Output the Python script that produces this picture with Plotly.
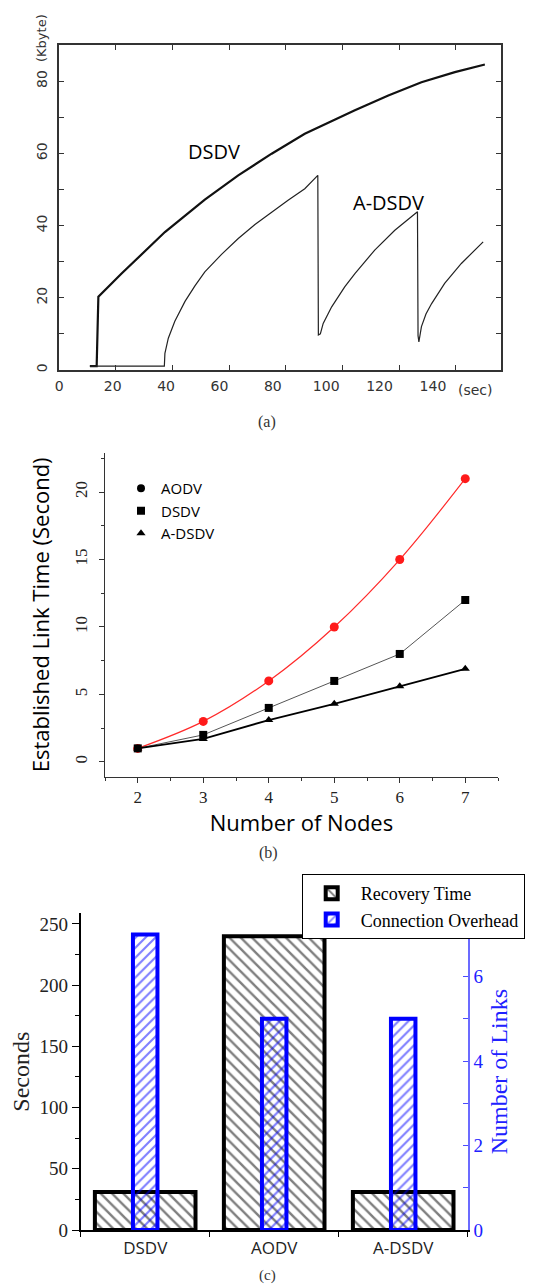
import plotly.graph_objects as go

# ---------------- Panel (a): memory over time ----------------
a_dsdv_x = [10.8, 13.2, 13.8, 22.0, 37.3, 51.4, 63.2, 75.0, 86.7, 104.4, 116.2, 127.9, 139.7, 150.3]
a_dsdv_y = [1.1, 1.1, 20.3, 26.7, 38.2, 47.2, 53.9, 59.9, 65.4, 71.9, 76.0, 79.7, 82.5, 84.6]

a_adsdv_x = [10.8, 37.1, 37.3, 38.5, 40.8, 44.4, 47.9, 51.4, 57.3, 63.2, 69.1, 75.0, 80.8, 86.7, 91.3,
             91.5, 92.2, 93.2, 96.2, 100.8, 104.4, 111.4, 118.5, 126.5,
             126.7, 127.0, 127.9, 129.5, 131.5, 136.1, 142.0, 149.7]
a_adsdv_y = [1.1, 1.1, 4.6, 8.8, 13.5, 19.0, 23.3, 27.2, 32.0, 36.4, 40.3, 43.8, 47.0, 50.2, 53.9,
             9.7, 10.0, 12.9, 17.5, 23.0, 26.7, 33.2, 38.7, 43.8,
             9.5, 7.8, 12.0, 15.5, 18.4, 24.0, 29.5, 35.5]
a_xticks = [0, 20, 40, 60, 80, 100, 120, 140]

# ---------------- Panel (b): established link time ----------------
nodes = [2, 3, 4, 5, 6, 7]
b_aodv = [1.0, 3.0, 6.0, 10.0, 15.0, 21.0]
b_dsdv = [1.0, 2.0, 4.0, 6.0, 8.0, 12.0]
b_adsdv = [1.0, 1.7, 3.1, 4.3, 5.6, 6.9]

# ---------------- Panel (c): recovery / overhead ----------------
protocols = ["DSDV", "AODV", "A-DSDV"]
recovery_time = [31, 240, 31]
connection_overhead = [7, 5, 5]

# page body has an 8px default margin: size the figure to fit inside the window
OFF = 8
W, H = 534 - OFF, 1285 - OFF
def px(x):
    return (x - OFF) / W
def py(y):
    return 1 - (y - OFF) / H

SANS = "Open Sans"
SERIF = "Liberation Serif"
A_FONT = dict(family="DejaVu Sans", size=14, color="#333")

fig = go.Figure()

# (a)
fig.add_trace(go.Scatter(x=a_dsdv_x, y=a_dsdv_y, mode="lines", xaxis="x", yaxis="y",
                         line=dict(color="#111", width=2.2), showlegend=False))
fig.add_trace(go.Scatter(x=a_adsdv_x, y=a_adsdv_y, mode="lines", xaxis="x", yaxis="y",
                         line=dict(color="#222", width=1.2), showlegend=False))
# label-only axis of panel (a) (the printed labels sit slightly left of their ticks)
fig.add_trace(go.Scatter(x=[None], y=[None], mode="lines", xaxis="x5", yaxis="y",
                         showlegend=False, hoverinfo="skip"))

# (b)
fig.add_trace(go.Scatter(x=nodes, y=b_aodv, mode="lines+markers", xaxis="x2", yaxis="y2",
                         line=dict(color="#ff2a2a", width=1.2, shape="spline"),
                         marker=dict(symbol="circle", size=9, color="#ff1a1a"), showlegend=False))
fig.add_trace(go.Scatter(x=nodes, y=b_dsdv, mode="lines+markers", xaxis="x2", yaxis="y2",
                         line=dict(color="#555", width=1),
                         marker=dict(symbol="square", size=8, color="black"), showlegend=False))
fig.add_trace(go.Scatter(x=nodes, y=b_adsdv, mode="lines+markers", xaxis="x2", yaxis="y2",
                         line=dict(color="black", width=1.8),
                         marker=dict(symbol="triangle-up", size=8, color="black"), showlegend=False))
for nm, sym in [("AODV", "circle"), ("DSDV", "square"), ("A-DSDV", "triangle-up")]:
    fig.add_trace(go.Scatter(x=[None], y=[None], mode="markers", xaxis="x2", yaxis="y2", name=nm,
                             marker=dict(symbol=sym, size=8, color="black"), legend="legend"))

# (c)
fig.add_trace(go.Bar(x=protocols, y=recovery_time, xaxis="x3", yaxis="y3", name="Recovery Time",
                     width=0.78, legend="legend2",
                     marker=dict(color="white", line=dict(color="black", width=4),
                                 pattern=dict(shape="\\", fgcolor="black", bgcolor="white",
                                              size=8, solidity=0.3))))
fig.add_trace(go.Bar(x=protocols, y=connection_overhead, xaxis="x3", yaxis="y4",
                     name="Connection Overhead", width=0.19, legend="legend2",
                     marker=dict(color="rgba(0,0,0,0)", line=dict(color="#0000ff", width=4),
                                 pattern=dict(shape="/", fgcolor="#0000ff", bgcolor="rgba(0,0,0,0)",
                                              size=7, solidity=0.3))))

def note(text, x, y, font, ref="paper", angle=0):
    if ref == "paper":
        x, y, xr, yr = px(x), py(y), "paper", "paper"
    else:
        xr, yr = "x", "y"
    return dict(text=text, x=x, y=y, xref=xr, yref=yr, showarrow=False, textangle=angle,
                xanchor="center", yanchor="middle", font=font)

annotations = [
    note("(a)", 267, 422, dict(family=SERIF, size=16, color="#333")),
    note("(b)", 268, 853, dict(family=SERIF, size=16, color="#333")),
    note("(c)", 267, 1275, dict(family=SERIF, size=15, color="#333")),
    note("(Kbyte)", 42, 38, dict(family="DejaVu Sans", size=13, color="#333"), angle=-90),
    note("(sec)", 475, 390, A_FONT),
    note("DSDV", 54.6, 60.4, dict(family=SANS, size=20, color="black"), ref="data"),
    note("A-DSDV", 116.1, 46.5, dict(family=SANS, size=20, color="black"), ref="data"),
]

fig.update_layout(
    width=W, height=H, margin=dict(l=0, r=0, t=0, b=0),
    paper_bgcolor="white", plot_bgcolor="white",
    barmode="overlay",
    annotations=annotations,
    xaxis=dict(domain=[px(59.3), px(501)], anchor="y", range=[0, 156], tickvals=a_xticks,
               showticklabels=False,
               ticks="inside", ticklen=5, tickcolor="#333", showline=True, linecolor="#333",
               linewidth=1.5, mirror="ticks", showgrid=False, zeroline=False, automargin=False),
    xaxis5=dict(overlaying="x", anchor="y", side="bottom", range=[0, 165.5],
                tickvals=a_xticks, ticks="", showline=False, showgrid=False, zeroline=False,
                automargin=False, ticklabelstandoff=6, tickfont=A_FONT),
    yaxis=dict(domain=[py(370), py(45)], anchor="x", range=[0, 90], dtick=20, tickangle=-90,
               ticks="inside", ticklen=5, tickcolor="#333", showline=True, linecolor="#333",
               linewidth=1.5, mirror="ticks", showgrid=False, zeroline=False, automargin=False,
               ticklabelstandoff=5,
               minor=dict(dtick=10, ticks="inside", ticklen=5, tickcolor="#333"),
               tickfont=A_FONT),
    xaxis2=dict(domain=[px(105), px(498)], anchor="y2", range=[1.5, 7.5], dtick=1,
                ticks="outside", ticklen=5, tickcolor="#333", showline=True, linecolor="#333",
                linewidth=1.3, showgrid=False, zeroline=False, automargin=False,
                minor=dict(dtick=0.5, ticks="outside", ticklen=3, tickcolor="#333"),
                tickfont=dict(family=SERIF, size=17, color="#222"),
                title=dict(text="Number of Nodes", font=dict(family=SANS, size=22, color="black"),
                           standoff=8)),
    yaxis2=dict(domain=[py(776.7), py(453)], anchor="x2", range=[-1.1, 22.9],
                tickvals=[0, 5, 10, 15, 20], tickangle=-90,
                ticks="outside", ticklen=5, tickcolor="#333", showline=True, linecolor="#333",
                linewidth=1.3, showgrid=False, zeroline=False, automargin=False,
                ticklabelstandoff=5,
                minor=dict(tickvals=[2.5, 7.5, 12.5, 17.5, 22.5], ticks="outside", ticklen=3,
                           tickcolor="#333"),
                tickfont=dict(family=SERIF, size=17, color="#222"),
                title=dict(text="Established Link Time (Second)",
                           font=dict(family=SANS, size=22, color="black"), standoff=16)),
    xaxis3=dict(domain=[px(80.7), px(467.7)], anchor="y3", type="category", range=[-0.5, 2.5],
                ticks="outside", tickson="boundaries", ticklen=5, tickcolor="black",
                showline=True, linecolor="black", linewidth=2, showgrid=False, zeroline=False,
                automargin=False, ticklabelstandoff=2,
                tickfont=dict(family=SANS, size=17, color="#222")),
    yaxis3=dict(domain=[py(1230), py(913.3)], anchor="x3", range=[0, 258.7], dtick=50,
                ticks="outside", ticklen=7, tickcolor="black", showline=True, linecolor="black",
                linewidth=2, showgrid=False, zeroline=False, automargin=False,
                minor=dict(dtick=25, ticks="outside", ticklen=4, tickcolor="black"),
                tickfont=dict(family=SERIF, size=19, color="#222"),
                title=dict(text="Seconds", font=dict(family=SERIF, size=24, color="#222"),
                           standoff=8)),
    yaxis4=dict(overlaying="y3", side="right", anchor="x3", range=[0, 7.5],
                tickvals=[0, 2, 4, 6], ticks="inside", ticklen=5, tickcolor="#4b4bff",
                showline=True, linecolor="#6b6bff", linewidth=2, showgrid=False, zeroline=False,
                automargin=False,
                minor=dict(dtick=1, ticks="inside", ticklen=5, tickcolor="#4b4bff"),
                tickfont=dict(family=SERIF, size=19, color="#2020ff"),
                title=dict(text="Number of Links", font=dict(family=SERIF, size=24, color="#2020ff"),
                           standoff=8)),
    legend=dict(x=px(121), y=py(472), xanchor="left", yanchor="top",
                font=dict(family=SANS, size=15, color="black"), bgcolor="rgba(0,0,0,0)"),
    legend2=dict(x=px(301.7), y=py(874), xanchor="left", yanchor="top", itemwidth=48,
                 font=dict(family=SERIF, size=18, color="black"), bgcolor="white",
                 bordercolor="black", borderwidth=1),
)

fig.write_html("out.html")
